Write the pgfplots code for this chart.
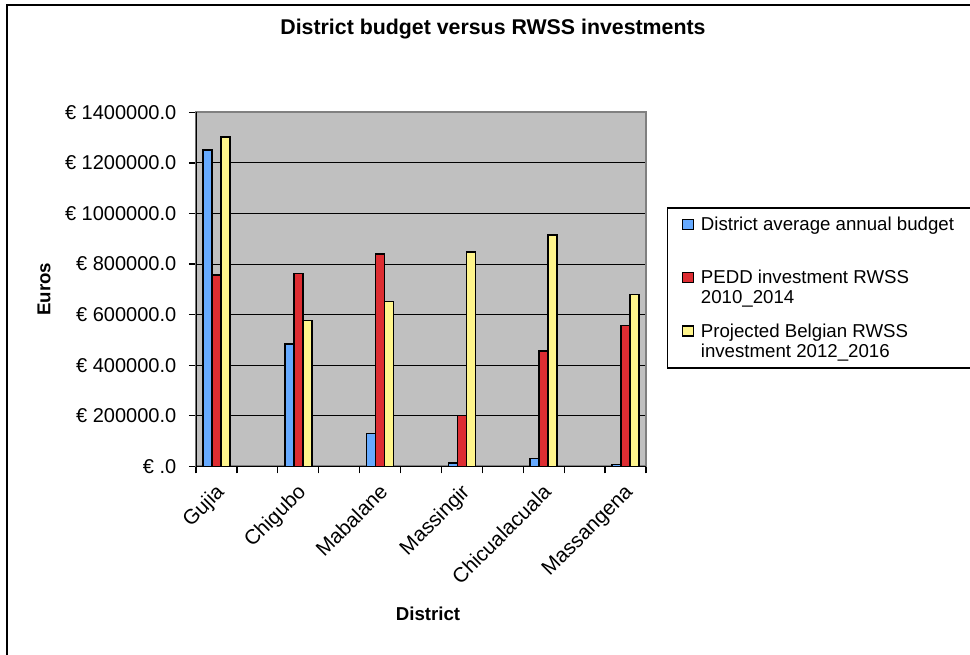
\documentclass[border=0pt]{standalone}
\usepackage{pgfplots}
\pgfplotsset{compat=1.18}
\usepackage{fontspec}
\setmainfont{Liberation Sans}
\newlength{\px}\setlength{\px}{0.75pt}
\definecolor{cblue}{RGB}{102,170,255}
\definecolor{cred}{RGB}{221,45,50}
\definecolor{cyellow}{RGB}{255,245,140}
\definecolor{plotgray}{RGB}{192,192,192}
\definecolor{framegray}{RGB}{128,128,128}
\begin{document}
\begin{tikzpicture}
\begin{axis}[
  scale only axis, width=450\px, height=354\px,
  xmin=-0.5, xmax=10.5, ymin=0, ymax=1400000,
  axis background/.style={fill=plotgray},
  axis line style={framegray, line width=2\px},
  tick pos=left, tick align=outside,
  major tick length=7\px, minor tick length=7\px,
  tick style={black, line width=1.3\px},
  major x tick style={draw=none},
  xtick={0,2,...,10},
  xticklabels={Gujia,Chigubo,Mabalane,Massingir,Chicualacuala,Massangena},
  minor xtick={-0.5,0.5,...,10.5},
  xticklabel style={font=\fontsize{15.5}{18}\selectfont, yshift=-3\px, xshift=-2\px, rotate=45, anchor=north east},
  ytick={0,200000,...,1400000},
  yticklabels={€ .0,€ 200000.0,€ 400000.0,€ 600000.0,€ 800000.0,€ 1000000.0,€ 1200000.0,€ 1400000.0},
  scaled y ticks=false,
  yticklabel style={font=\fontsize{15}{18}\selectfont, xshift=-8\px},
  ymajorgrids, major grid style={black, line width=1\px},
  title={District budget versus RWSS investments},
  title style={font=\bfseries\fontsize{16}{19}\selectfont, at={(axis description cs:0.66,1.2127)}, anchor=center},
  xlabel={District},
  xlabel style={font=\bfseries\fontsize{14}{17}\selectfont, at={(axis description cs:0.5156,-0.4172)}, anchor=center},
  ylabel={Euros},
  ylabel style={font=\bfseries\fontsize{14}{17}\selectfont, at={(axis description cs:-0.3378,0.5)}, anchor=center},
  legend style={at={(axis description cs:1.046,0.7316)}, anchor=north west,
    draw=black, line width=1.3\px, fill=white,
    font=\fontsize{14}{15}\selectfont,
    inner xsep=11pt, inner ysep=4.5pt, row sep=9pt, column sep=3pt,
    cells={anchor=base west, align=left}},
  legend image code/.code={\draw[#1, line width=1.2\px] (0pt,21.4\px) rectangle (11\px,31.4\px);},
]
\addplot[ybar, bar width=0.22, bar shift=-0.22, fill=cblue, draw=black, line width=1.5\px]
  coordinates {(0,1250000) (2,483000) (4,130000) (6,14000) (8,30000) (10,8000)};
\addlegendentry{\strut District average annual budget\\\strut}
\addplot[ybar, bar width=0.22, bar shift=0, fill=cred, draw=black, line width=1.5\px]
  coordinates {(0,756000) (2,763000) (4,839000) (6,200000) (8,456000) (10,556000)};
\addlegendentry{\strut PEDD investment RWSS\\2010\_2014\strut}
\addplot[ybar, bar width=0.22, bar shift=0.22, fill=cyellow, draw=black, line width=1.5\px]
  coordinates {(0,1303000) (2,576000) (4,652000) (6,848000) (8,915000) (10,680000)};
\addlegendentry{\strut Projected Belgian RWSS\\investment 2012\_2016\strut}
\draw[black, line width=1.5\px] (rel axis cs:0,1) -- (rel axis cs:0,0) -- (rel axis cs:1,0);
\end{axis}
\draw[black, line width=1.3\px] (-189\px,-240\px) -- (-189\px,461.3\px) -- (800\px,461.3\px);
\pgfresetboundingbox
\path[use as bounding box] (-196\px,-187.7\px) rectangle (774\px,466.3\px);
\end{tikzpicture}
\end{document}
